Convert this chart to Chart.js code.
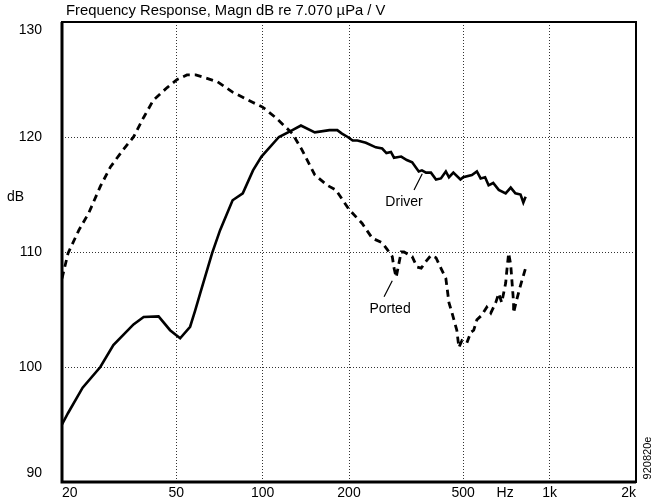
<!DOCTYPE html>
<html lang="en">
<head>
<meta charset="UTF-8">
<title>Frequency Response</title>
<script src="https://cdn.jsdelivr.net/npm/chart.js"></script>
<style>
  html, body { margin: 0; padding: 0; background: #fff; }
</style>
</head>
<body>
<canvas id="fr" width="656" height="503"></canvas>

<script>
  // values (Hz, dB)
  const driverHz = [20, 21, 23.6, 27.2, 30.2, 35.5, 38.5, 43.4, 47.6, 51.6, 55.9, 58.2, 60.6, 66.7, 71.1, 78.6, 85.3, 92.6, 99.1,
    114, 127, 136, 152, 171, 182, 189, 198, 206, 214, 229, 248, 261, 270, 280, 287, 304, 318, 332, 350, 359, 371, 386,
    402, 418, 435, 446, 462, 489, 500, 536, 558, 575, 596, 613, 636, 665, 703, 732, 760, 792, 810, 825];
  const driverDb = [95.0, 96.0, 98.2, 100.0, 101.9, 103.7, 104.35, 104.4, 103.2, 102.5, 103.5, 104.9, 106.4, 109.9, 111.9, 114.5, 115.1, 117.1, 118.3,
    120.0, 120.6, 121.0, 120.4, 120.6, 120.6, 120.3, 120.0, 119.7, 119.7, 119.5, 119.1, 119.0, 118.6, 118.7, 118.2, 118.3, 118.0, 117.8, 117.0, 117.1, 116.9, 116.9,
    116.3, 116.4, 117.0, 116.5, 116.9, 116.3, 116.5, 116.7, 117.0, 116.4, 116.5, 115.8, 116.0, 115.4, 115.1, 115.6, 115.1, 115.0, 114.3, 114.8];

  const portedHz = [20, 21, 22.9, 24.8, 27.2, 29.5, 32.7, 35.5, 38.5, 41.6, 46.5, 50.4, 54.5, 58.5, 64, 69.6, 78.6, 92.6, 100,
    110.9, 127, 137, 152, 168, 180, 200, 222, 241, 261, 272, 283, 287, 292, 304, 311, 332, 345, 357, 374, 386, 402, 418,
    435, 446, 457, 475, 483, 495, 515, 531, 544, 558, 580, 604, 624, 649, 665, 681, 703, 709, 720, 732, 749, 749, 767, 792, 825];
  const portedDb = [107.7, 109.9, 111.9, 113.4, 115.7, 117.4, 118.9, 120.0, 121.7, 123.2, 124.3, 125.0, 125.4, 125.4, 125.1, 124.8, 123.9, 123.0, 122.6,
    121.7, 120.3, 118.9, 116.7, 115.8, 115.4, 113.7, 112.5, 111.2, 110.8, 110.2, 109.6, 108.6, 107.8, 110.0, 110.0, 109.6, 108.7, 108.6, 109.3, 109.7, 109.5, 108.6,
    107.7, 105.6, 104.7, 103.2, 101.7, 102.3, 102.1, 103.0, 103.2, 104.1, 104.5, 105.2, 104.7, 105.6, 106.4, 105.6, 107.3, 108.3, 109.9, 108.9, 105.6, 104.7, 105.8, 107.1, 108.6];

  const xTicks = [20, 50, 100, 200, 500, 700, 1000, 2000];
  const xTickLabels = ['20', '50', '100', '200', '500', 'Hz', '1k', '2k'];
  const xGrid = [50, 100, 200, 500, 1000];
  const yTicks = [90, 100, 110, 120, 130];
  const yGrid = [100, 110, 120];

  const titleText = 'Frequency Response, Magn dB re 7.070 \u00B5Pa / V';

  const toPoints = (xs, ys) => xs.map((x, i) => ({ x: x, y: ys[i] }));

  const FONT = '"Liberation Sans", Arial, Helvetica, sans-serif';
  Chart.defaults.font.family = FONT;
  Chart.defaults.font.size = 14;
  Chart.defaults.color = '#000';

  // title, frame, axis word, curve labels
  const extras = {
    id: 'extras',
    afterDraw(chart) {
      const { ctx, chartArea: a, scales: { x, y } } = chart;
      ctx.save();
      ctx.strokeStyle = '#000';
      ctx.lineWidth = 2;
      ctx.strokeRect(a.left, a.top, a.right - a.left, a.bottom - a.top);
      ctx.lineWidth = 3;
      ctx.beginPath();
      ctx.moveTo(a.left, a.top);
      ctx.lineTo(a.left, a.bottom);
      ctx.lineTo(a.right, a.bottom);
      ctx.stroke();

      ctx.fillStyle = '#000';
      ctx.font = '14.8px ' + FONT;
      ctx.textBaseline = 'middle';
      ctx.textAlign = 'left';
      ctx.fillText(titleText, a.left + 4, 11);
      ctx.font = '14px ' + FONT;
      ctx.fillText('dB', 7, y.getPixelForValue(114.8));

      ctx.textAlign = 'center';
      ctx.fillText('Driver', x.getPixelForValue(311), y.getPixelForValue(114.35));
      ctx.fillText('Ported', x.getPixelForValue(278), y.getPixelForValue(105.0));

      ctx.lineWidth = 1.2;
      ctx.beginPath();
      ctx.moveTo(x.getPixelForValue(337), y.getPixelForValue(115.4));
      ctx.lineTo(x.getPixelForValue(360), y.getPixelForValue(116.8));
      ctx.moveTo(x.getPixelForValue(265), y.getPixelForValue(106.1));
      ctx.lineTo(x.getPixelForValue(283), y.getPixelForValue(107.5));
      ctx.stroke();

      ctx.translate(648, 458);
      ctx.rotate(-Math.PI / 2);
      ctx.font = '11px ' + FONT;
      ctx.fillText('920820e', 0, 0);
      ctx.restore();
    }
  };

  new Chart(document.getElementById('fr').getContext('2d'), {
    type: 'scatter',
    data: {
      datasets: [
        {
          label: 'Driver',
          data: toPoints(driverHz, driverDb),
          showLine: true,
          borderColor: '#000',
          borderWidth: 2.6,
          pointRadius: 0,
          tension: 0
        },
        {
          label: 'Ported',
          data: toPoints(portedHz, portedDb),
          showLine: true,
          borderColor: '#000',
          borderWidth: 2.8,
          borderDash: [7, 5],
          pointRadius: 0,
          tension: 0
        }
      ]
    },
    options: {
      responsive: false,
      animation: false,
      devicePixelRatio: 1,
      layout: { padding: { top: 22, right: 20, left: 0, bottom: 0 } },
      plugins: {
        legend: { display: false },
        tooltip: { enabled: false }
      },
      scales: {
        x: {
          type: 'logarithmic',
          min: 20,
          max: 2000,
          afterBuildTicks: s => { s.ticks = xTicks.map(v => ({ value: v })); },
          afterFit: s => { s.height = 21; s.paddingLeft = 0; s.paddingRight = 0; },
          ticks: {
            autoSkip: false,
            maxRotation: 0,
            align: 'inner',
            padding: 3,
            callback: (v, i) => xTickLabels[i]
          },
          grid: {
            drawTicks: false,
            lineWidth: 1,
            color: c => (c.tick && xGrid.includes(c.tick.value)) ? '#333' : 'rgba(0,0,0,0)'
          },
          border: { display: false, dash: [1, 2] }
        },
        y: {
          min: 90,
          max: 130,
          afterBuildTicks: s => { s.ticks = yTicks.map(v => ({ value: v })); },
          afterFit: s => { s.width = 62; s.paddingTop = 0; s.paddingBottom = 0; },
          ticks: {
            padding: 20,
            callback: v => v === 130 ? ['', '130'] : (v === 90 ? ['90', ''] : String(v))
          },
          grid: {
            drawTicks: false,
            lineWidth: 1,
            color: c => (c.tick && yGrid.includes(c.tick.value)) ? '#333' : 'rgba(0,0,0,0)'
          },
          border: { display: false, dash: [1, 2] }
        }
      }
    },
    plugins: [extras]
  });
</script>
</body>
</html>
